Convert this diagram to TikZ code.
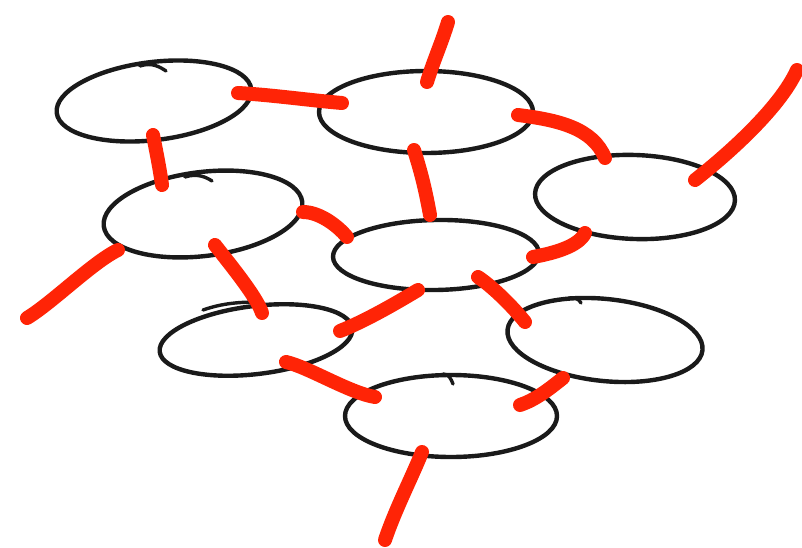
\documentclass[tikz,border=0pt]{standalone}
\usetikzlibrary{shapes.geometric}
\definecolor{pen}{RGB}{26,26,26}
\definecolor{marker}{RGB}{255,36,6}
\begin{document}
\begin{tikzpicture}[x=1pt,y=-1pt,
  cell/.style={ellipse,draw=pen,line width=4.4pt,inner sep=0pt},
  flick/.style={draw=pen,line width=3.4pt,line cap=round},
  link/.style={draw=marker,line width=14pt,line cap=round}]
\useasboundingbox[fill=white] (0,0) rectangle (802,548);
% cells
\node[cell,minimum width=196pt,minimum height=78pt,rotate=7] (e1) at (154,101) {};
\node[cell,minimum width=214pt,minimum height=82pt] (e2) at (426,112) {};
\node[cell,minimum width=200pt,minimum height=84pt,rotate=-2] (e3) at (635,197) {};
\node[cell,minimum width=200pt,minimum height=84pt,rotate=7] (e4) at (203,214) {};
\node[cell,minimum width=206pt,minimum height=70pt,rotate=1] (e5) at (436,255) {};
\node[cell,minimum width=194pt,minimum height=68pt,rotate=7] (e6) at (256,340) {};
\node[cell,minimum width=196pt,minimum height=82pt,rotate=-6] (e7) at (605,340) {};
\node[cell,minimum width=212pt,minimum height=82pt] (e8) at (451,416) {};
% pen flicks
\draw[flick] ([shift={(-14,-35)}]e1.center) .. controls +(12,-4) and +(-6,-4) .. ([shift={(12,-30)}]e1.center);
\draw[flick] ([shift={(-18,-37)}]e4.center) .. controls +(12,-4) and +(-6,-4) .. ([shift={(9,-33)}]e4.center);
\draw[flick] ([shift={(-53,-30)}]e6.center) .. controls +(20,-7) and +(-20,0) .. ([shift={(4,-38)}]e6.center);
\draw[flick] ([shift={(-8,-42)}]e8.center) .. controls +(6,0) and +(-2,-5) .. ([shift={(2,-32)}]e8.center);
\draw[flick] ([shift={(-36,-42)}]e7.center) .. controls +(6,-1) and +(-2,-4) .. ([shift={(-24,-37)}]e7.center);
% free ends
\coordinate (t2) at (448,22);
\coordinate (t3) at (797,70);
\coordinate (t4) at (27,318);
\coordinate (t8) at (385,540);
% links
\draw[link] ([shift={(84,-8)}]e1.center) .. controls +(35,2) and +(-35,-3) .. ([shift={(-84,-9)}]e2.center);
\draw[link] ([shift={(-1,34)}]e1.center) .. controls +(3,15) and +(-2,-15) .. ([shift={(-41,-29)}]e4.center);
\draw[link] (t2) .. controls +(-6,20) and +(6,-20) .. ([shift={(1,-30)}]e2.center);
\draw[link] ([shift={(92,3)}]e2.center) .. controls +(40,5) and +(-12,-30) .. ([shift={(-30,-39)}]e3.center);
\draw[link] ([shift={(-12,38)}]e2.center) .. controls +(8,25) and +(-4,-22) .. ([shift={(-6,-40)}]e5.center);
\draw[link] (t3) .. controls +(-18,40) and +(28,-22) .. ([shift={(60,-17)}]e3.center);
\draw[link] ([shift={(-50,36)}]e3.center) .. controls +(-6,13) and +(22,-4) .. ([shift={(97,2)}]e5.center);
\draw[link] ([shift={(100,-2)}]e4.center) .. controls +(16,0) and +(-10,-12) .. ([shift={(-89,-18)}]e5.center);
\draw[link] ([shift={(-85,36)}]e4.center) .. controls +(-25,12) and +(25,-15) .. (t4);
\draw[link] ([shift={(12,31)}]e4.center) .. controls +(14,18) and +(-5,-16) .. ([shift={(6,-27)}]e6.center);
\draw[link] ([shift={(-18,35)}]e5.center) .. controls +(-25,15) and +(25,-10) .. ([shift={(84,-9)}]e6.center);
\draw[link] ([shift={(42,22)}]e5.center) .. controls +(15,10) and +(-12,-15) .. ([shift={(-80,-18)}]e7.center);
\draw[link] ([shift={(30,22)}]e6.center) .. controls +(22,5) and +(-25,-4) .. ([shift={(-76,-19)}]e8.center);
\draw[link] ([shift={(-42,38)}]e7.center) .. controls +(-15,12) and +(15,-5) .. ([shift={(69,-11)}]e8.center);
\draw[link] ([shift={(-29,36)}]e8.center) .. controls +(-10,25) and +(10,-30) .. (t8);
\end{tikzpicture}
\end{document}
